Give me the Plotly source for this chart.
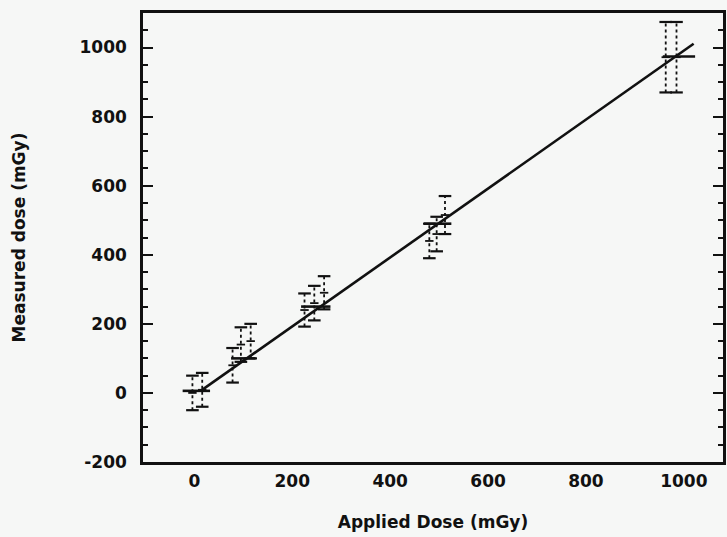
import plotly.graph_objects as go

# Individual measurements (x offset slightly around each nominal dose)
meas_x = [-4, 16, 78, 95, 115, 225, 245, 265, 480, 495, 512, 963, 985]
meas_y = [0, 9, 80, 140, 150, 240, 260, 290, 440, 460, 515, 972, 972]
meas_err = [50, 49, 50, 50, 50, 48, 50, 48, 50, 50, 55, 102, 102]

# Nominal (applied) doses and mean measured values (horizontal bars)
nom_x = [4, 100, 248, 497, 990]
nom_y = [6, 100, 250, 490, 974]
nom_halfwidth = [28, 25, 30, 28, 33]

# Fit line endpoints
fit_x = [15, 1020]
fit_y = [8, 1011]

BLACK = "#111111"
BG = "#f6f7f6"

fig = go.Figure()

# dotted vertical error bars
ex, ey = [], []
for x, y, e in zip(meas_x, meas_y, meas_err):
    ex += [x, x, None]
    ey += [y - e, y + e, None]
fig.add_trace(go.Scatter(x=ex, y=ey, mode="lines",
                         line=dict(color=BLACK, width=1.8, dash="dot"),
                         hoverinfo="skip", showlegend=False))
# caps
capx = meas_x + meas_x
capy = [y - e for y, e in zip(meas_y, meas_err)] + [y + e for y, e in zip(meas_y, meas_err)]
fig.add_trace(go.Scatter(x=capx, y=capy, mode="markers",
                         marker=dict(symbol="line-ew", size=9,
                                     line=dict(color=BLACK, width=2.2)),
                         hoverinfo="skip", showlegend=False))
# small marks at measured values
fig.add_trace(go.Scatter(x=meas_x, y=meas_y, mode="markers",
                         marker=dict(symbol="line-ew", size=6,
                                     line=dict(color=BLACK, width=1.8)),
                         showlegend=False))

# horizontal solid bars at nominal doses
hx, hy = [], []
for x, y, w in zip(nom_x, nom_y, nom_halfwidth):
    hx += [x - w, x + w, None]
    hy += [y, y, None]
fig.add_trace(go.Scatter(x=hx, y=hy, mode="lines",
                         line=dict(color=BLACK, width=2.6),
                         hoverinfo="skip", showlegend=False))

# fit line
fig.add_trace(go.Scatter(x=fit_x, y=fit_y, mode="lines",
                         line=dict(color=BLACK, width=2.6),
                         showlegend=False))

font = dict(family="DejaVu Sans, sans-serif", size=17, color=BLACK)

fig.update_layout(
    width=727, height=537,
    margin=dict(l=143, r=1, t=13, b=75),
    paper_bgcolor=BG, plot_bgcolor=BG,
    font=font,
    showlegend=False,
    xaxis=dict(
        range=[-105, 1080],
        tickvals=[0, 200, 400, 600, 800, 1000],
        ticktext=["<b>0</b>", "<b>200</b>", "<b>400</b>", "<b>600</b>", "<b>800</b>", "<b>1000</b>"],
        ticks="", showgrid=False, zeroline=False,
        showline=True, linecolor=BLACK, linewidth=2.5, mirror=True,
        ticklabelstandoff=2,
        title=dict(text="<b>Applied Dose (mGy)</b>", font=font, standoff=26),
    ),
    yaxis=dict(
        range=[-200, 1100],
        tickvals=[-200, 0, 200, 400, 600, 800, 1000],
        ticktext=["<b>-200</b>", "<b>0</b>", "<b>200</b>", "<b>400</b>", "<b>600</b>", "<b>800</b>", "<b>1000</b>"],
        ticks="inside", ticklen=10, tickwidth=2.2, tickcolor=BLACK,
        minor=dict(dtick=50, ticks="inside", ticklen=5, tickwidth=1.8, tickcolor=BLACK),
        showgrid=False, zeroline=False,
        showline=True, linecolor=BLACK, linewidth=2.5, mirror="ticks",
        ticklabelstandoff=10,
        title=dict(text="<b>Measured dose (mGy)</b>", font=font, standoff=50),
    ),
)

fig.write_html("out.html",
               config={"displayModeBar": False},
               post_script="document.body.style.margin='0';document.body.style.overflow='hidden';")
